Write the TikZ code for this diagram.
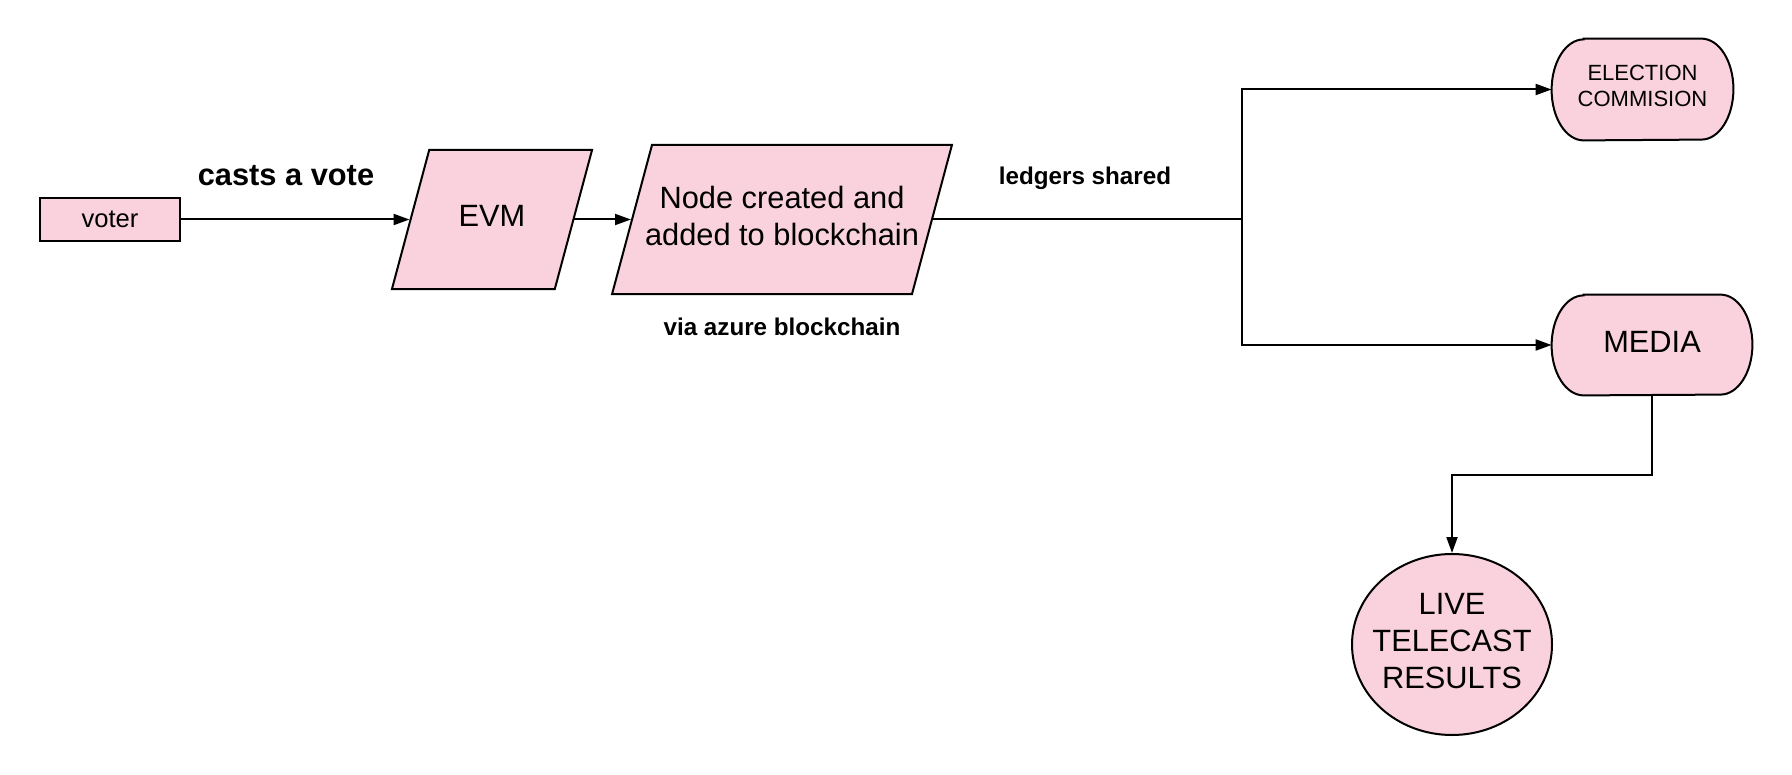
\documentclass[tikz,border=0pt]{standalone}
\usepackage{fontspec}
\setmainfont{Liberation Sans}
\usetikzlibrary{shapes.geometric,arrows.meta,backgrounds}
\definecolor{pinkfill}{RGB}{249,210,222}
\begin{document}
\begin{tikzpicture}[x=0.5pt,y=-0.5pt,
  box/.style={draw=black,fill=pinkfill,line width=1pt},
  arr/.style={line width=1pt,-{Triangle[length=8pt,width=5.5pt]}},
  conn/.style={line width=1pt},
  para/.style={box,trapezium,trapezium left angle=75,trapezium right angle=105,
    text height=0pt,text depth=0pt},
  big/.style={font=\fontsize{15.4pt}{18.4pt}\selectfont,inner sep=0pt,align=center},
  lbl/.style={font=\bfseries\fontsize{12.1pt}{14pt}\selectfont,inner sep=0pt},
]
\path[use as bounding box] (0,0) rectangle (1792,775);

% nodes
\node[box,minimum width=70pt,minimum height=21.5pt,inner sep=0pt,
  font=\fontsize{12.8pt}{15pt}\selectfont] (voter) at (110,219.5) {voter};
\node[para,inner xsep=31.4pt,inner ysep=34.75pt] (evm) at (492,219.5) {};
\node[big] (evmtext) at (492,216) {EVM};
\node[para,inner xsep=65pt,inner ysep=37.25pt] (nd) at (782,219.5) {};
\node[big] (ndtext) at (782,216) {Node created and\\added to blockchain};

\node[font=\fontsize{11pt}{13pt}\selectfont,align=center,minimum width=90.5pt,
  minimum height=50.5pt,inner sep=0pt] (ec) at (1642.5,89.5) {};
\node[font=\fontsize{11pt}{13pt}\selectfont,align=center,inner sep=0pt] (ectext) at (1642.5,86) {ELECTION\\COMMISION};
\node[minimum width=100pt,minimum height=50pt,inner sep=0pt] (media) at (1652,345) {};
\node[big] (mediatext) at (1652,341.5) {MEDIA};

\begin{scope}[on background layer]
\draw[box] ([xshift=16pt]ec.north west) -- ([xshift=-16pt]ec.north east)
  arc[start angle=90,end angle=-90,x radius=16pt,y radius=25.25pt]
  -- ([xshift=16pt]ec.south west)
  arc[start angle=270,end angle=90,x radius=16pt,y radius=25.25pt] -- cycle;
\draw[box] ([xshift=16pt]media.north west) -- ([xshift=-16pt]media.north east)
  arc[start angle=90,end angle=-90,x radius=16pt,y radius=25pt]
  -- ([xshift=16pt]media.south west)
  arc[start angle=270,end angle=90,x radius=16pt,y radius=25pt] -- cycle;
\end{scope}

\node[box,ellipse,minimum width=100pt,minimum height=90.5pt,inner sep=0pt] (live) at (1452,644.5) {};
\node[big] (livetext) at (1452,641) {LIVE\\TELECAST\\RESULTS};

% labels
\node[font=\bfseries\fontsize{15.4pt}{18pt}\selectfont,inner sep=0pt] (lcast) at (286,176) {casts a vote};
\node[lbl] (lledger) at (1085,178.5) {ledgers shared};
\node[lbl] (lvia) at (782,327) {via azure blockchain};

% connectors
\coordinate (split) at (1241.5,219.5);
\coordinate (turn) at (1452,475);
\draw[arr] (voter) -- (evm);
\draw[arr] (evm) -- (nd);
\draw[conn] (nd) -- (split);
\draw[arr] (split) |- (ec);
\draw[arr] (split) |- (media);
\draw[arr] (media) |- (turn) -- (live);
\end{tikzpicture}
\end{document}
